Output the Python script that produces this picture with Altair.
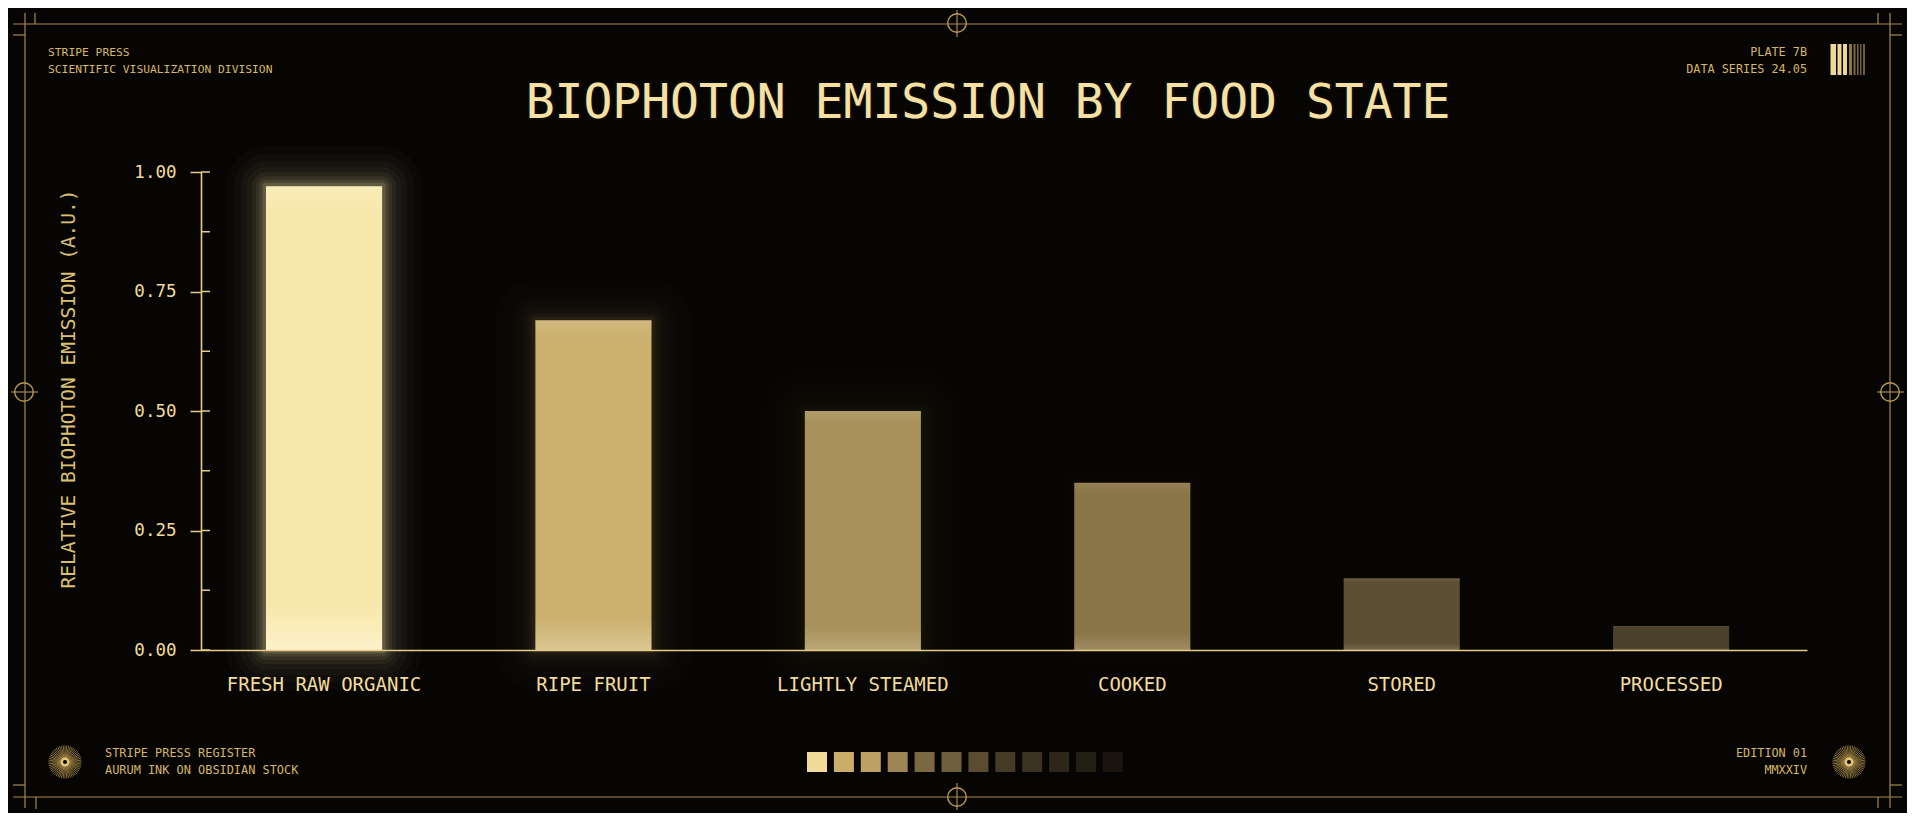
import math
import altair as alt
import pandas as pd

# ---------------- data ----------------
CATEGORIES = ["FRESH RAW ORGANIC", "RIPE FRUIT", "LIGHTLY STEAMED", "COOKED", "STORED", "PROCESSED"]
VALUES = [0.97, 0.69, 0.50, 0.35, 0.15, 0.05]
BAR_COLORS = ["#f8e7aa", "#cbb06e", "#a8915a", "#8b7648", "#5c4f33", "#4b4029"]
Y_MAJOR = [0.0, 0.25, 0.5, 0.75, 1.0]
Y_MINOR = [0.125, 0.375, 0.625, 0.875]
Y_ALL = Y_MAJOR + Y_MINOR

TITLE = "BIOPHOTON EMISSION BY FOOD STATE"
Y_TITLE = "RELATIVE BIOPHOTON EMISSION (A.U.)"
TOP_LEFT = ["STRIPE PRESS", "SCIENTIFIC VISUALIZATION DIVISION"]
TOP_RIGHT = ["PLATE 7B", "DATA SERIES 24.05"]
BOTTOM_LEFT = ["STRIPE PRESS REGISTER", "AURUM INK ON OBSIDIAN STOCK"]
BOTTOM_RIGHT = ["EDITION 01", "MMXXIV"]
SWATCH_COLORS = ["#f1db98", "#c9ad69", "#bca064", "#9c8453", "#7a6842", "#6f5e3b",
                 "#5a4c31", "#453a26", "#3b3221", "#2e2719", "#231e14", "#19150e"]

# ---------------- style / layout ----------------
FONT = "DejaVu Sans Mono"
GOLD = "#f3dc9a"
AXIS_GOLD = "#e6cc88"
DIM_GOLD = "#d6b666"
LINE_GOLD = "#a68a4a"
BG = "#060504"
W, H = 1606, 478
OX, OY = 201, 172          # page position of plot origin


def px(v):
    return v - OX


def py(v):
    return v - OY


df = pd.DataFrame({"state": CATEGORIES, "value": VALUES, "color": BAR_COLORS})

y_axis = alt.Axis(title=None, values=Y_MAJOR, format=".2f", tickSize=11, tickWidth=1.5,
                  tickColor=AXIS_GOLD, domainColor=AXIS_GOLD, domainWidth=1.6,
                  labelPadding=14, labelFont=FONT, labelFontSize=17.5, labelColor=GOLD,
                  grid=False, zindex=1)
y_scale = alt.Scale(domain=[0, 1], nice=False, zero=True)

x_enc = alt.X(
    "state:N", sort=CATEGORIES,
    scale=alt.Scale(paddingInner=0.569, paddingOuter=0.265, align=0.455),
    axis=alt.Axis(title=None, labelAngle=0, ticks=False, tickSize=0, labelPadding=40,
                  labelBaseline="alphabetic", labelFont=FONT, labelFontSize=19,
                  labelColor=GOLD, labelLimit=500, domainColor=AXIS_GOLD, domainWidth=1.6,
                  zindex=1),
)
y_enc = alt.Y("value:Q", scale=y_scale, axis=y_axis)

base = alt.Chart(df).transform_calculate(g="pow(datum.value, 3)")

glow_layers = []
for sw, a in [(80, 0.018), (64, 0.022), (50, 0.028), (38, 0.035), (28, 0.05),
              (20, 0.07), (13, 0.10), (7, 0.16)]:
    glow_layers.append(
        base.transform_calculate(op=f"{a} * datum.g")
        .mark_bar(strokeWidth=sw, strokeJoin="round")
        .encode(x=x_enc, y=y_enc,
                fill=alt.Color("color:N", scale=None),
                stroke=alt.Color("color:N", scale=None),
                opacity=alt.Opacity("op:Q", scale=None))
    )

bars = base.mark_bar().encode(x=x_enc, y=y_enc, fill=alt.Color("color:N", scale=None))

shine = base.transform_calculate(op="0.25 + 0.75 * datum.g").mark_bar(
    fill=alt.Gradient(
        gradient="linear", x1=0, x2=0, y1=0, y2=1,
        stops=[alt.GradientStop(color="rgba(255,250,228,0.30)", offset=0),
               alt.GradientStop(color="rgba(255,250,228,0)", offset=0.06),
               alt.GradientStop(color="rgba(255,250,228,0)", offset=0.9),
               alt.GradientStop(color="rgba(255,250,228,0.6)", offset=1)])
).encode(x=x_enc, y=y_enc, opacity=alt.Opacity("op:Q", scale=None))

ticks_df = pd.DataFrame({"value": Y_ALL})
inner_ticks = alt.Chart(ticks_df).mark_rule(color=AXIS_GOLD, strokeWidth=1.5).encode(
    y=alt.Y("value:Q", scale=y_scale, axis=y_axis),
    x=alt.value(0), x2=alt.value(9))

# ---------------- frame decorations ----------------
lines = [
    (13, 24, 1902, 24), (13, 797, 1902, 797), (25, 13, 25, 808), (1890, 13, 1890, 808),
    (13, 35, 25, 35), (35, 13, 35, 24), (1878, 13, 1878, 24), (1890, 35, 1902, 35),
    (13, 785, 25, 785), (36, 797, 36, 809), (1890, 785, 1902, 785), (1878, 797, 1878, 808),
    (957, 10, 957, 37), (957, 783, 957, 810), (11, 392, 38, 392), (1877, 392, 1904, 392),
]
lines_df = pd.DataFrame([{"x1": px(a), "y1": py(b), "x2": px(c), "y2": py(d)} for a, b, c, d in lines])
frame = alt.Chart(lines_df).mark_rule(color=LINE_GOLD, strokeWidth=1.2).encode(
    x=alt.X("x1:Q", scale=None, axis=None), x2="x2:Q",
    y=alt.Y("y1:Q", scale=None, axis=None), y2="y2:Q")

circ_df = pd.DataFrame([{"x": px(a), "y": py(b)} for a, b in [(957, 23), (957, 797), (24, 392), (1890, 392)]])
circles = alt.Chart(circ_df).mark_point(shape="circle", filled=False, size=346,
                                        strokeWidth=1.4, color="#b8984e", opacity=1).encode(
    x=alt.X("x:Q", scale=None, axis=None), y=alt.Y("y:Q", scale=None, axis=None))

spokes = []
for k in range(56):
    ang = 2 * math.pi * k / 56
    spokes.append("M{:.3f},{:.3f}L{:.3f},{:.3f}".format(
        0.28 * math.cos(ang), 0.28 * math.sin(ang), math.cos(ang), math.sin(ang)))
SPOKE_PATH = "".join(spokes)

sun_df = pd.DataFrame([{"x": px(65), "y": py(762)}, {"x": px(1849), "y": py(762)}])
sun_enc = dict(x=alt.X("x:Q", scale=None, axis=None), y=alt.Y("y:Q", scale=None, axis=None))
sun_spokes = alt.Chart(sun_df).mark_point(shape=SPOKE_PATH, filled=False, size=1100,
                                          strokeWidth=0.7, color="#c9a758", opacity=0.9).encode(**sun_enc)
sun_ring = alt.Chart(sun_df).mark_point(shape="circle", filled=True, size=90,
                                        color="#e2c473", opacity=1).encode(**sun_enc)
sun_dot = alt.Chart(sun_df).mark_point(shape="circle", filled=True, size=16,
                                       color="#050403", opacity=1).encode(**sun_enc)

barcode = [(1830.5, 1836, "#f0d894"), (1837.5, 1841.5, "#f0d894"), (1843, 1847, "#f0d894"),
           (1849, 1852, "#8c7642"), (1853.5, 1855.5, "#7d6a3c"), (1857, 1858.5, "#7d6a3c"),
           (1860, 1861.5, "#6e5d35"), (1863, 1865, "#6e5d35")]
bc_df = pd.DataFrame([{"x1": px(a), "x2": px(b), "y1": py(44), "y2": py(75), "c": c} for a, b, c in barcode])
barcode_marks = alt.Chart(bc_df).mark_rect().encode(
    x=alt.X("x1:Q", scale=None, axis=None), x2="x2:Q",
    y=alt.Y("y1:Q", scale=None, axis=None), y2="y2:Q",
    fill=alt.Color("c:N", scale=None))

sw_df = pd.DataFrame([{"x1": px(807 + 26.9 * i), "x2": px(827 + 26.9 * i), "y1": py(752), "y2": py(772), "c": c}
                      for i, c in enumerate(SWATCH_COLORS)])
swatches = alt.Chart(sw_df).mark_rect().encode(
    x=alt.X("x1:Q", scale=None, axis=None), x2="x2:Q",
    y=alt.Y("y1:Q", scale=None, axis=None), y2="y2:Q",
    fill=alt.Color("c:N", scale=None))

# ---------------- texts ----------------
top_left_txt = pd.DataFrame([
    {"x": px(48), "y": py(56), "t": TOP_LEFT[0]},
    {"x": px(48), "y": py(72.5), "t": TOP_LEFT[1]},
])
bottom_left_txt = pd.DataFrame([
    {"x": px(105), "y": py(757), "t": BOTTOM_LEFT[0]},
    {"x": px(105), "y": py(774), "t": BOTTOM_LEFT[1]},
])
right_txt = pd.DataFrame([
    {"x": px(1807), "y": py(56), "t": TOP_RIGHT[0]},
    {"x": px(1807), "y": py(72.5), "t": TOP_RIGHT[1]},
    {"x": px(1807), "y": py(757), "t": BOTTOM_RIGHT[0]},
    {"x": px(1807), "y": py(774), "t": BOTTOM_RIGHT[1]},
])
txt_enc = dict(x=alt.X("x:Q", scale=None, axis=None), y=alt.Y("y:Q", scale=None, axis=None), text="t:N")
small_tl = alt.Chart(top_left_txt).mark_text(align="left", baseline="alphabetic", font=FONT,
                                             fontSize=11.3, color=DIM_GOLD).encode(**txt_enc)
small_bl = alt.Chart(bottom_left_txt).mark_text(align="left", baseline="alphabetic", font=FONT,
                                                fontSize=11.9, color=DIM_GOLD).encode(**txt_enc)
small_right = alt.Chart(right_txt).mark_text(align="right", baseline="alphabetic", font=FONT,
                                             fontSize=11.8, color=DIM_GOLD).encode(**txt_enc)

title_df = pd.DataFrame([{"x": px(988), "y": py(118), "t": TITLE}])
title_glow = alt.Chart(title_df).mark_text(align="center", baseline="alphabetic", font=FONT,
                                           fontSize=48, color="#f6e0a2", opacity=0.25,
                                           stroke="#f6e0a2", strokeWidth=4, strokeOpacity=0.12).encode(**txt_enc)
title = alt.Chart(title_df).mark_text(align="center", baseline="alphabetic", font=FONT,
                                      fontSize=48, color="#f6e0a2").encode(**txt_enc)

ytitle_df = pd.DataFrame([{"x": px(75), "y": py(389), "t": Y_TITLE}])
ytitle = alt.Chart(ytitle_df).mark_text(align="center", baseline="alphabetic", font=FONT,
                                        fontSize=19.5, angle=270, color="#dcc070").encode(**txt_enc)

chart = alt.layer(
    frame, circles, *glow_layers, bars, shine, inner_ticks,
    sun_spokes, sun_ring, sun_dot, barcode_marks, swatches,
    small_tl, small_bl, small_right, title_glow, title, ytitle,
).properties(
    width=W, height=H,
    background=BG,
    padding={"left": OX - 8, "top": OY - 8, "right": 1915 - 16 - (OX - 8) - W, "bottom": 821 - 16 - (OY - 8) - H},
    autosize=alt.AutoSizeParams(type="none"),
).configure_view(stroke=None)

chart.save("out.html", embed_options={"renderer": "svg", "actions": False})
